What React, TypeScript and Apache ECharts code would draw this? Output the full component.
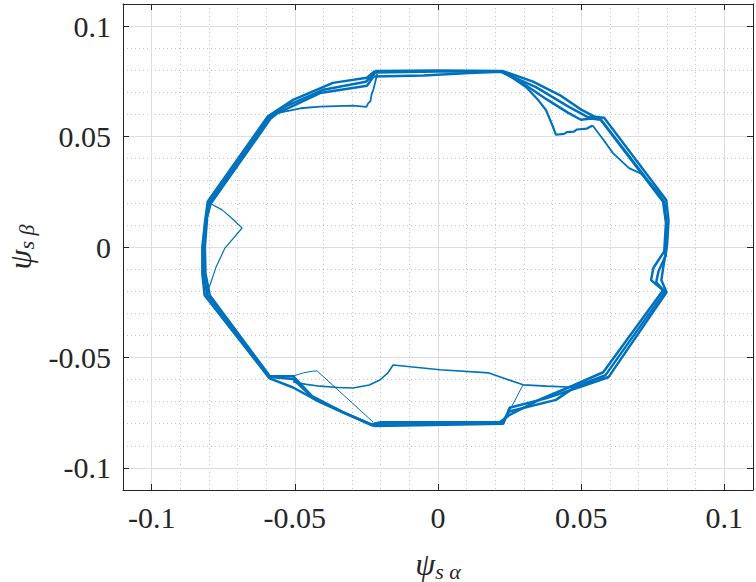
import React, { useEffect, useRef } from "react";
import * as echarts from "echarts";

// Stator flux trajectory, psi_s_alpha vs psi_s_beta (Wb)
const outerLoop: [number, number][] = [
  [-0.022, 0.0797], [0.0, 0.0799], [0.0225, 0.0797], [0.033, 0.075], [0.0425, 0.0688],
  [0.05, 0.0622], [0.055, 0.0588], [0.058, 0.0585], [0.0797, 0.0213], [0.0805, 0.012],
  [0.08, 0.001], [0.0788, -0.008], [0.078, -0.015], [0.0798, -0.0205], [0.0595, -0.059],
  [0.049, -0.0636], [0.038, -0.0684], [0.025, -0.0728], [0.0228, -0.08], [-0.022, -0.081],
  [-0.032, -0.0755], [-0.0412, -0.0702], [-0.0506, -0.0636], [-0.0588, -0.0595],
  [-0.0815, -0.0218], [-0.0823, -0.012], [-0.0823, 0.0], [-0.0813, 0.012], [-0.0804, 0.0206],
  [-0.0595, 0.059], [-0.0506, 0.0666], [-0.0367, 0.0743], [-0.0248, 0.0766], [-0.022, 0.0797],
];

const innerLoop: [number, number][] = [
  [-0.0225, 0.0772], [-0.005, 0.0776], [0.011, 0.0788], [0.0222, 0.0793], [0.03, 0.0738],
  [0.038, 0.0668], [0.0455, 0.0607], [0.0499, 0.0576], [0.0534, 0.0582], [0.0568, 0.0576],
  [0.0786, 0.0205], [0.0796, 0.011], [0.079, -0.002], [0.0752, -0.0095], [0.0744, -0.015],
  [0.0786, -0.0196], [0.0577, -0.0567], [0.047, -0.0628], [0.036, -0.0688], [0.025, -0.076],
  [0.0215, -0.0793], [-0.02, -0.0793], [-0.0235, -0.0803], [-0.0335, -0.0745], [-0.044, -0.0675],
  [-0.0506, -0.0585], [-0.0587, -0.0585], [-0.0797, -0.0218], [-0.0812, -0.012], [-0.0814, 0.0],
  [-0.0806, 0.0136], [-0.0794, 0.0196], [-0.0585, 0.058], [-0.056, 0.0606], [-0.0412, 0.0697],
  [-0.0248, 0.073], [-0.0225, 0.0772],
];

const middleLoop: [number, number][] = [
  [-0.0218, 0.079], [0.0, 0.0794], [0.0218, 0.0795], [0.0342, 0.0724], [0.0457, 0.0634],
  [0.052, 0.059], [0.0562, 0.0588], [0.079, 0.0205], [0.08, 0.008], [0.0795, -0.004],
  [0.077, -0.011], [0.0762, -0.016], [0.0792, -0.0202], [0.0585, -0.058], [0.048, -0.0632],
  [0.0412, -0.0692], [0.0248, -0.0745], [0.0222, -0.0797], [-0.021, -0.08], [-0.0228, -0.0808],
  [-0.033, -0.075], [-0.0435, -0.0685], [-0.0506, -0.0598], [-0.0587, -0.0589], [-0.0806, -0.0216],
  [-0.0818, -0.012], [-0.0818, 0.0], [-0.081, 0.012], [-0.0798, 0.02], [-0.059, 0.0584],
  [-0.053, 0.0638], [-0.04, 0.0712], [-0.0252, 0.0748], [-0.0218, 0.079],
];

const topRightBranch: [number, number][] = [
  [0.0225, 0.0797], [0.0307, 0.0724], [0.035, 0.0665], [0.0377, 0.062], [0.0402, 0.0543],
  [0.0412, 0.0508], [0.044, 0.0512], [0.045, 0.052], [0.0475, 0.0522], [0.0485, 0.0532],
  [0.052, 0.0536], [0.054, 0.055],
];

const rightBranch: [number, number][] = [
  [0.054, 0.055], [0.0575, 0.049], [0.0611, 0.0425], [0.0667, 0.0357], [0.0709, 0.0332],
  [0.0796, 0.0213],
];

const topLeftBranch: [number, number][] = [
  [-0.0594, 0.0588], [-0.0562, 0.0606], [-0.048, 0.0628], [-0.0412, 0.0635], [-0.0297, 0.064],
  [-0.025, 0.0634], [-0.0244, 0.065], [-0.0236, 0.066], [-0.0232, 0.069], [-0.0225, 0.0715],
  [-0.0212, 0.0785],
];

const leftBranch: [number, number][] = [
  [-0.08, 0.02], [-0.0754, 0.0168], [-0.072, 0.013], [-0.0684, 0.0086], [-0.0744, -0.0005],
  [-0.0775, -0.009], [-0.0796, -0.0172], [-0.0812, -0.0215],
];

const bottomLeftBranch: [number, number][] = [
  [-0.0506, -0.0584], [-0.047, -0.057], [-0.0437, -0.0562], [-0.0422, -0.0561], [-0.0227, -0.0792],
];

const bottomBranch: [number, number][] = [
  [-0.0506, -0.0611], [-0.046, -0.0622], [-0.0412, -0.063], [-0.035, -0.0636], [-0.0297, -0.0638],
  [-0.024, -0.0625], [-0.0203, -0.0602], [-0.0175, -0.057], [-0.0157, -0.0534], [0.0007, -0.0556],
  [0.0178, -0.057], [0.0297, -0.0624], [0.038, -0.063], [0.0492, -0.0636], [0.055, -0.06],
  [0.0594, -0.0588],
];

const bottomRightBranch: [number, number][] = [
  [0.0297, -0.0624], [0.0227, -0.0797],
];

const AXIS_MIN = -0.11;
const AXIS_MAX = 0.11;

const LINE_COLOR = "#0072BD";
const AXIS_COLOR = "#262626";
const FONT = "'Liberation Serif', 'DejaVu Serif', serif";

export default function App() {
  const ref = useRef<HTMLDivElement>(null);

  useEffect(() => {
    if (!ref.current) return;
    const chart = echarts.init(ref.current, undefined, { renderer: "svg" });

    const axisLine = { show: true, onZero: false, lineStyle: { color: AXIS_COLOR, width: 1 } };
    const tick = { show: true, inside: true, length: 6, lineStyle: { color: AXIS_COLOR, width: 1 } };
    const label = {
      show: true,
      color: AXIS_COLOR,
      fontFamily: FONT,
      fontSize: 30,
      margin: 12,
      showMinLabel: false,
      showMaxLabel: false,
    };
    const nameRich = {
      p: { fontFamily: FONT, fontStyle: "italic", fontSize: 32, color: AXIS_COLOR, lineHeight: 36 },
      s: {
        fontFamily: FONT,
        fontStyle: "italic",
        fontSize: 22,
        color: AXIS_COLOR,
        lineHeight: 22,
        verticalAlign: "bottom",
      },
    };

    const strand = (data: [number, number][], width: number) => ({
      type: "line",
      data,
      showSymbol: false,
      symbol: "none",
      lineStyle: { color: LINE_COLOR, width },
      z: 3,
      silent: true,
    });

    chart.setOption({
      animation: false,
      backgroundColor: "#ffffff",
      grid: { left: 123, right: 3, top: 4, bottom: 92, containLabel: false, outerBoundsMode: "none" },
      xAxis: [
        {
          type: "value",
          position: "bottom",
          min: AXIS_MIN,
          max: AXIS_MAX,
          splitNumber: 5,
          z: 2,
          axisLine,
          axisTick: tick,
          axisLabel: label,
          splitLine: { show: true, lineStyle: { color: "#dedede", width: 1 } },
          name: "{p|ψ}{s|s α}",
          nameLocation: "middle",
          nameGap: 56,
          nameTextStyle: { rich: nameRich, verticalAlign: "top" },
        },
        {
          type: "value",
          position: "top",
          min: AXIS_MIN,
          max: AXIS_MAX,
          splitNumber: 5,
          z: 2,
          axisLine,
          axisTick: tick,
          axisLabel: { show: false },
          splitLine: { show: false },
        },
        {
          type: "value",
          position: "bottom",
          min: AXIS_MIN,
          max: AXIS_MAX,
          interval: 0.01,
          z: 0,
          axisLine: { show: false, onZero: false },
          axisTick: { show: false },
          axisLabel: { show: false },
          splitLine: { show: true, lineStyle: { color: "#c4c4c4", width: 1, type: [1, 3] } },
        },
      ],
      yAxis: [
        {
          type: "value",
          position: "left",
          min: AXIS_MIN,
          max: AXIS_MAX,
          splitNumber: 5,
          z: 2,
          axisLine,
          axisTick: tick,
          axisLabel: label,
          splitLine: { show: true, lineStyle: { color: "#dedede", width: 1 } },
          name: "{p|ψ}{s|s β}",
          nameLocation: "middle",
          nameRotate: 90,
          nameGap: 72,
          nameTextStyle: { rich: nameRich },
        },
        {
          type: "value",
          position: "right",
          min: AXIS_MIN,
          max: AXIS_MAX,
          splitNumber: 5,
          z: 2,
          axisLine,
          axisTick: tick,
          axisLabel: { show: false },
          splitLine: { show: false },
        },
        {
          type: "value",
          position: "left",
          min: AXIS_MIN,
          max: AXIS_MAX,
          interval: 0.01,
          z: 0,
          axisLine: { show: false, onZero: false },
          axisTick: { show: false },
          axisLabel: { show: false },
          splitLine: { show: true, lineStyle: { color: "#c4c4c4", width: 1, type: [1, 3] } },
        },
      ],
      series: [
        strand(outerLoop, 2.5),
        strand(middleLoop, 2.5),
        strand(innerLoop, 2.5),
        strand(topRightBranch, 2.2),
        strand(rightBranch, 1.8),
        strand(topLeftBranch, 1.8),
        strand(leftBranch, 1.2),
        strand(bottomLeftBranch, 1),
        strand(bottomBranch, 1.6),
        strand(bottomRightBranch, 1),
      ],
    });

    return () => chart.dispose();
  }, []);

  return (
    <div
      ref={ref}
      style={{ position: "fixed", left: 0, top: 0, width: 756, height: 582, background: "#fff" }}
    />
  );
}
